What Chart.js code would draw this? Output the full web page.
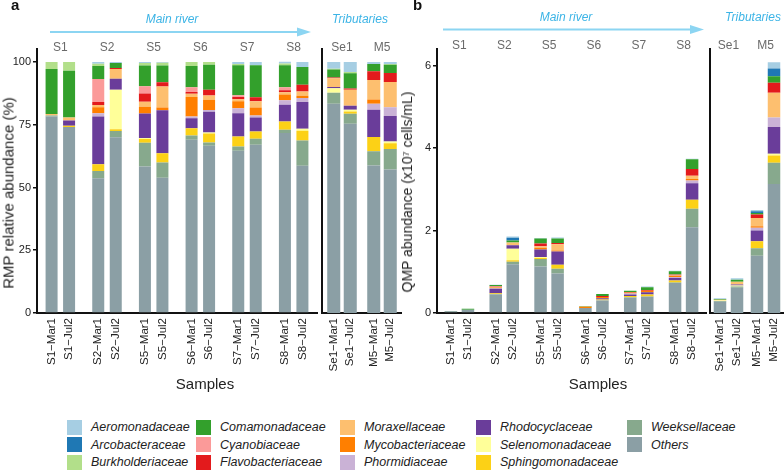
<!DOCTYPE html>
<html>
<head>
<meta charset="utf-8">
<script src="https://cdn.jsdelivr.net/npm/chart.js@4.4.0/dist/chart.umd.min.js"></script>
<style>
  body { margin: 0; background: #fff; font-family: "Liberation Sans", Arial, sans-serif; }
  #wrap { position: relative; width: 784px; height: 471px; overflow: hidden; background: #fff; }
  canvas { position: absolute; top: 0; }
  .txt { position: absolute; white-space: nowrap; line-height: 1; }
  .panel { font-weight: bold; font-size: 15px; color: #111; }
  .river { font-style: italic; font-size: 12px; color: #3cb4e6; transform: translateX(-50%); }
  .ytitle { font-size: 15px; color: #222; transform: translate(-50%, -50%) rotate(-90deg); }
  .xtitle { font-size: 15px; color: #222; transform: translate(-50%, -50%); }
  .leg { position: absolute; font-size: 12.5px; font-style: italic; color: #222; line-height: 1; white-space: nowrap; }
  .box { position: absolute; width: 15px; height: 15px; }
</style>
</head>
<body>
<div id="wrap">
  <canvas id="cA1" width="318" height="380" style="left:0px"></canvas>
  <canvas id="cA2" width="84" height="380" style="left:318px"></canvas>
  <canvas id="cB1" width="307" height="380" style="left:400px"></canvas>
  <canvas id="cB2" width="78" height="380" style="left:706px"></canvas>

  <svg width="784" height="60" style="position:absolute;left:0;top:0">
    <line x1="50" y1="32" x2="299" y2="32" stroke="#8cd5f2" stroke-width="2"/>
    <polygon points="297,27.5 311,32 297,36.5" fill="#8cd5f2"/>
    <line x1="443" y1="29.5" x2="692" y2="29.5" stroke="#8cd5f2" stroke-width="2"/>
    <polygon points="690,25 704,29.5 690,34" fill="#8cd5f2"/>
  </svg>

  <div class="txt panel" style="left:11px;top:-3px">a</div>
  <div class="txt panel" style="left:413px;top:-3px">b</div>
  <div class="txt river" style="left:172px;top:13px">Main river</div>
  <div class="txt river" style="left:360px;top:13px">Tributaries</div>
  <div class="txt river" style="left:566px;top:11px">Main river</div>
  <div class="txt river" style="left:753px;top:11px">Tributaries</div>

  <div class="txt ytitle" style="left:8px;top:193px">RMP relative abundance (%)</div>
  <div class="txt ytitle" style="left:407px;top:192px;font-size:14px">QMP abundance (x10⁷ cells/mL)</div>
  <div class="txt xtitle" style="left:205px;top:383px">Samples</div>
  <div class="txt xtitle" style="left:598px;top:383px">Samples</div>

  <div id="legend"></div>
</div>

<script>
Chart.defaults.font.family = '"Liberation Sans", Arial, sans-serif';

var families = ['Aeromonadaceae', 'Arcobacteraceae', 'Burkholderiaceae', 'Comamonadaceae',
  'Cyanobiaceae', 'Flavobacteriaceae', 'Moraxellaceae', 'Mycobacteriaceae', 'Phormidiaceae',
  'Rhodocyclaceae', 'Selenomonadaceae', 'Sphingomonadaceae', 'Weeksellaceae', 'Others'];
var colors = ['#a6cee3', '#1f78b4', '#b2df8a', '#33a02c', '#fb9a99', '#e31a1c', '#fdbf6f',
  '#ff7f00', '#cab2d6', '#6a3d9a', '#ffff99', '#fcd116', '#87a98d', '#8b9fa5'];

var samples = ['S1−Mar1', 'S1−Jul2', 'S2−Mar1', 'S2−Jul2', 'S5−Mar1', 'S5−Jul2', 'S6−Mar1', 'S6−Jul2',
  'S7−Mar1', 'S7−Jul2', 'S8−Mar1', 'S8−Jul2', 'Se1−Mar1', 'Se1−Jul2', 'M5−Mar1', 'M5−Jul2'];
var mainSites = ['S1', 'S2', 'S5', 'S6', 'S7', 'S8'];
var tribSites = ['Se1', 'M5'];

// panel a, RMP relative abundance (%), same order as samples
var rmp_aero    = [0, 0, 0.7, 0.4, 0.4, 0.3, 0, 0, 0.8, 1.3, 0.7, 2.0, 2.7, 4.0, 0.8, 0.8];
var rmp_arco    = [0, 0, 0, 0, 0, 0, 0, 0, 0, 0, 0, 0, 0, 0, 0, 0];
var rmp_burk    = [2.8, 3.5, 0.9, 0, 1.0, 1.1, 1.6, 1.1, 0.5, 0, 0.7, 0, 0.3, 0.5, 0, 0.3];
var rmp_comam   = [17.9, 18.6, 5.2, 2.0, 8.3, 6.7, 8.5, 10.0, 12.0, 12.8, 8.8, 7.1, 3.2, 6.1, 2.9, 3.3];
var rmp_cyano   = [0, 0, 9.2, 0, 2.9, 0, 1.9, 0, 0.7, 0, 1.2, 0, 0, 0, 0, 0];
var rmp_flavo   = [0, 0, 1.1, 0.4, 3.3, 1.7, 0.7, 2.3, 0.9, 1.6, 0.8, 2.7, 0.3, 0.5, 3.5, 3.6];
var rmp_morax   = [0.6, 1.2, 0.9, 3.9, 1.9, 8.3, 1.3, 1.7, 0.8, 2.4, 0.9, 1.7, 3.5, 6.3, 7.8, 10.0];
var rmp_myco    = [0, 0, 2.4, 0, 2.7, 1.1, 7.7, 4.0, 2.7, 3.2, 2.3, 0.9, 0, 0, 1.6, 0];
var rmp_phorm   = [0, 0, 1.3, 0, 0, 0, 0.7, 0.7, 2.0, 0.8, 1.7, 1.6, 0, 0, 2.4, 3.5];
var rmp_rhodo   = [0, 2.1, 19.0, 4.4, 9.8, 17.2, 4.0, 8.3, 9.3, 5.6, 6.7, 10.6, 0.5, 1.6, 10.9, 10.2];
var rmp_selen   = [0, 0, 0, 15.7, 0.4, 0, 0, 0.4, 0, 0, 0, 0.8, 1.8, 0.7, 0, 0.7];
var rmp_sphingo = [0, 0.5, 2.7, 0.7, 1.5, 3.7, 2.9, 3.6, 4.0, 2.9, 3.3, 3.9, 0, 0.9, 5.7, 2.3];
var rmp_weeks   = [0.4, 0, 2.9, 2.5, 9.4, 6.0, 1.7, 1.3, 1.7, 2.4, 1.3, 10.0, 4.3, 4.0, 5.6, 8.1];
var rmp_others  = [78.3, 74.1, 53.7, 70.0, 58.4, 53.9, 69.0, 66.6, 64.6, 67.0, 71.7, 58.7, 83.4, 75.4, 58.8, 57.2];

// panel b, QMP abundance (x10^7 cells/mL)
var qmp_aero    = [0, 0, 0.005, 0.03, 0.015, 0.025, 0, 0, 0, 0.02, 0.01, 0.01, 0.02, 0.04, 0.03, 0.15];
var qmp_arco    = [0, 0, 0, 0.065, 0, 0, 0, 0, 0, 0, 0, 0, 0, 0, 0.04, 0.19];
var qmp_burk    = [0, 0, 0, 0, 0, 0, 0, 0, 0, 0, 0, 0, 0, 0, 0, 0];
var qmp_comam   = [0.01, 0.02, 0.03, 0.05, 0.12, 0.11, 0.01, 0.05, 0.03, 0.065, 0.08, 0.24, 0.02, 0.05, 0.04, 0.16];
var qmp_cyano   = [0, 0, 0.015, 0, 0, 0, 0, 0, 0, 0, 0.01, 0, 0, 0, 0, 0];
var qmp_flavo   = [0, 0, 0.005, 0, 0.065, 0.03, 0, 0.02, 0.015, 0.02, 0.015, 0.16, 0, 0, 0.08, 0.24];
var qmp_morax   = [0, 0, 0.01, 0.07, 0.04, 0.15, 0.01, 0, 0, 0, 0.015, 0.08, 0.02, 0.065, 0.20, 0.60];
var qmp_myco    = [0, 0, 0.02, 0, 0.04, 0.025, 0.03, 0.03, 0.025, 0.035, 0.025, 0.04, 0, 0, 0.04, 0];
var qmp_phorm   = [0, 0, 0.01, 0, 0, 0, 0, 0, 0.02, 0, 0.02, 0.065, 0, 0, 0.065, 0.23];
var qmp_rhodo   = [0, 0, 0.11, 0.08, 0.18, 0.32, 0, 0.03, 0.04, 0.055, 0.06, 0.40, 0, 0.025, 0.26, 0.65];
var qmp_selen   = [0, 0, 0, 0.28, 0.025, 0, 0, 0, 0, 0, 0, 0, 0.01, 0.025, 0, 0.04];
var qmp_sphingo = [0, 0, 0.02, 0.04, 0.025, 0.10, 0, 0.02, 0.03, 0.05, 0.05, 0.22, 0, 0, 0.17, 0.18];
var qmp_weeks   = [0, 0, 0.01, 0.06, 0.18, 0.11, 0, 0.01, 0.01, 0, 0.01, 0.445, 0.02, 0.03, 0.18, 0.51];
var qmp_others  = [0.04, 0.08, 0.45, 1.18, 1.13, 0.96, 0.12, 0.30, 0.37, 0.40, 0.73, 2.08, 0.27, 0.61, 1.39, 3.13];

var rmpData = [rmp_aero, rmp_arco, rmp_burk, rmp_comam, rmp_cyano, rmp_flavo, rmp_morax,
  rmp_myco, rmp_phorm, rmp_rhodo, rmp_selen, rmp_sphingo, rmp_weeks, rmp_others];
var qmpData = [qmp_aero, qmp_arco, qmp_burk, qmp_comam, qmp_cyano, qmp_flavo, qmp_morax,
  qmp_myco, qmp_phorm, qmp_rhodo, qmp_selen, qmp_sphingo, qmp_weeks, qmp_others];

// draws the site names on top and the rotated sample names under each bar
var sampleLabels = {
  id: 'sampleLabels',
  afterDraw: function(chart, args, opts) {
    var ctx = chart.ctx;
    var area = chart.chartArea;
    ctx.save();
    ctx.fillStyle = '#6a6a6a';
    ctx.font = '12px "Liberation Sans", Arial, sans-serif';
    ctx.textAlign = 'center';
    ctx.textBaseline = 'middle';
    chart.data.labels.forEach(function(site, i) {
      ctx.fillText(site, chart.scales.x.getPixelForValue(i), opts.siteY);
    });
    ctx.fillStyle = '#222';
    ctx.font = '11.5px "Liberation Sans", Arial, sans-serif';
    ctx.textAlign = 'right';
    for (var t = 0; t < 2; t++) {
      var meta = chart.getDatasetMeta(t);
      meta.data.forEach(function(bar, i) {
        ctx.save();
        ctx.translate(bar.x, area.bottom + 5);
        ctx.rotate(-Math.PI / 2);
        ctx.fillText(opts.names[i * 2 + t], 0, 0);
        ctx.restore();
      });
    }
    ctx.restore();
  }
};

function makeDatasets(values, first, nSites, catPct, barPct) {
  var sets = [];
  for (var f = families.length - 1; f >= 0; f--) {
    for (var t = 0; t < 2; t++) {
      var d = [];
      for (var s = 0; s < nSites; s++) d.push(values[f][first + s * 2 + t]);
      sets.push({
        label: families[f],
        data: d,
        stack: t === 0 ? 'Mar1' : 'Jul2',
        backgroundColor: colors[f],
        borderWidth: 0,
        categoryPercentage: catPct,
        barPercentage: barPct
      });
    }
  }
  return sets;
}

function stackChart(id, cfg) {
  var ctx = document.getElementById(id).getContext('2d');
  return new Chart(ctx, {
    type: 'bar',
    data: {
      labels: cfg.sites,
      datasets: makeDatasets(cfg.values, cfg.first, cfg.sites.length, cfg.catPct, cfg.barPct)
    },
    plugins: [sampleLabels],
    options: {
      responsive: false,
      animation: false,
      layout: { padding: { top: 49.4, right: cfg.padRight, left: 0, bottom: 0 } },
      plugins: {
        legend: { display: false },
        tooltip: { enabled: false },
        sampleLabels: { names: samples.slice(cfg.first, cfg.first + cfg.sites.length * 2), siteY: cfg.siteY }
      },
      scales: {
        x: {
          stacked: true,
          ticks: { display: false },
          grid: { display: false },
          border: { color: '#111', width: 2 },
          afterFit: function(s) { s.height = 67; }
        },
        y: {
          stacked: true,
          min: 0,
          max: cfg.yMax,
          ticks: {
            display: cfg.showTicks,
            stepSize: cfg.yStep,
            includeBounds: false,
            padding: 2,
            color: '#222',
            font: { size: 11 }
          },
          grid: {
            display: cfg.showTicks,
            drawOnChartArea: false,
            tickLength: 4,
            color: '#111',
            lineWidth: 1.5
          },
          border: { color: '#111', width: 2 },
          afterFit: function(s) { s.width = cfg.yWidth; }
        }
      }
    }
  });
}

stackChart('cA1', { values: rmpData, first: 0, sites: mainSites, catPct: 0.75, barPct: 0.686,
  yMax: 105, yStep: 25, showTicks: true, yWidth: 37, padRight: 1, siteY: 48 });
stackChart('cA2', { values: rmpData, first: 12, sites: tribSites, catPct: 0.825, barPct: 0.79,
  yMax: 105, yStep: 25, showTicks: false, yWidth: 4, padRight: 0, siteY: 48 });
stackChart('cB1', { values: qmpData, first: 0, sites: mainSites, catPct: 0.76, barPct: 0.735,
  yMax: 6.39, yStep: 2, showTicks: true, yWidth: 37, padRight: 1, siteY: 46 });
stackChart('cB2', { values: qmpData, first: 12, sites: tribSites, catPct: 0.92, barPct: 0.735,
  yMax: 6.39, yStep: 2, showTicks: false, yWidth: 4, padRight: 0, siteY: 46 });

// legend, 5 columns of 3, column-major
var legendBoxX = [67, 196, 340, 476, 627];
var legendRowY = [427, 444.5, 462];
var legend = document.getElementById('legend');
families.forEach(function(name, i) {
  var col = Math.floor(i / 3), row = i % 3;
  var box = document.createElement('div');
  box.className = 'box';
  box.style.left = legendBoxX[col] + 'px';
  box.style.top = (legendRowY[row] - 7.5) + 'px';
  box.style.background = colors[i];
  legend.appendChild(box);
  var txt = document.createElement('div');
  txt.className = 'leg';
  txt.style.left = (legendBoxX[col] + 24) + 'px';
  txt.style.top = (legendRowY[row] - 6) + 'px';
  txt.textContent = name;
  legend.appendChild(txt);
});
</script>
</body>
</html>
